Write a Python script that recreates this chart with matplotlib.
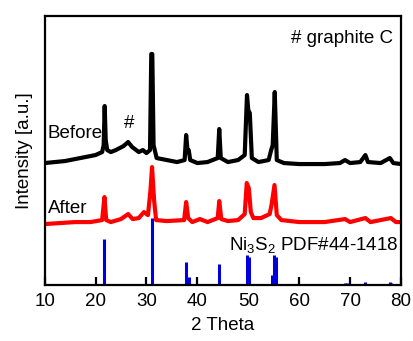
import numpy as np
import matplotlib
matplotlib.use("Agg")
import matplotlib.pyplot as plt

plt.rcParams['font.family'] = ['Liberation Sans', 'DejaVu Sans']
plt.rcParams['mathtext.fontset'] = 'custom'
plt.rcParams['mathtext.rm'] = 'Liberation Sans'
plt.rcParams['mathtext.default'] = 'regular'

# "Before" pattern: (2theta, intensity) knots
before_2t = [10, 12, 14, 16, 18, 20, 21.3, 21.6, 21.8, 22.0, 22.3, 23, 24, 25.5, 26.4,
             27.2, 28.5, 29.3, 30, 30.7, 30.95, 31.15, 31.4, 32, 34, 36, 37.5, 37.8,
             38.1, 38.3, 38.6, 40, 42, 44.0, 44.3, 44.6, 46, 48, 49.3, 49.75, 50.0,
             50.3, 50.7, 52, 54, 54.5, 54.8, 55.2, 55.6, 57, 60, 65, 68, 69, 70, 72,
             73, 73.5, 76, 77.8, 78.5, 80]
before_int = [122, 123, 124, 126, 128, 130, 133, 140, 179, 145, 135, 133, 135, 139, 143,
              138, 133, 135, 132, 135, 231, 231, 140, 127, 125, 123, 125, 150,
              133, 135, 125, 122, 123, 127, 156, 127, 123, 125, 130, 190, 175,
              172, 127, 123, 125, 135, 140, 193, 125, 122, 121, 121, 122, 125, 122, 123,
              130, 123, 122, 127, 122, 121]

# "After" pattern
after_2t = [10, 13, 16, 19, 21.3, 21.75, 22.1, 23, 25, 26.4, 27.3, 28.5, 29.5, 30.3,
            30.8, 31.1, 31.5, 31.9, 34, 37.4, 37.8, 38.2, 39, 40.5, 42, 44.0, 44.3,
            44.7, 46, 48, 49.3, 49.7, 50.1, 50.5, 51, 52.5, 54.2, 54.6, 55.15, 55.6,
            56.5, 60, 65, 69, 70, 73, 74, 78, 79, 80]
after_int = [61, 62, 63, 63, 65, 88, 65, 63, 66, 71, 66, 67, 73, 70,
             95, 118, 85, 65, 64, 65, 83, 67, 63, 66, 63, 67, 84,
             66, 64, 65, 71, 102, 97, 73, 67, 67, 71, 81, 100, 70,
             65, 63, 63, 66, 63, 67, 63, 67, 63, 63]

# Ni3S2 PDF#44-1418 reference lines
ref_2t = [21.75, 31.1, 37.75, 38.3, 44.3, 49.7, 50.1, 54.6, 55.15, 55.35, 69.0, 69.3, 73.0, 77.8, 78.1]
ref_int = [46, 67, 23, 8, 21, 30, 28, 10, 30, 28, 2, 2, 3, 3, 2]

fig = plt.figure(figsize=(4.13, 3.41), dpi=100)
ax = fig.add_axes([0.108, 0.164, 0.863, 0.789])

ax.plot(before_2t, before_int, color='black', lw=3.0, solid_joinstyle='round')
ax.plot(after_2t, after_int, color='red', lw=3.0, solid_joinstyle='round')
ax.vlines(ref_2t, 0, ref_int, color='#0000dd', lw=2.2)

ax.set_xlim(10, 80)
ax.set_ylim(0, 269)
ax.set_xticks([10, 20, 30, 40, 50, 60, 70, 80])
ax.set_yticks([])
ax.tick_params(axis='x', direction='in', length=6, width=1.6, labelsize=13.5, pad=6)
for s in ax.spines.values():
    s.set_linewidth(1.6)

ax.set_xlabel('2 Theta', fontsize=13.5, labelpad=5)
ax.set_ylabel('Intensity [a.u.]', fontsize=13.5, labelpad=8)

ax.text(78.5, 247, '# graphite C', fontsize=13.5, ha='right', va='center')
ax.text(10.6, 152, 'Before', fontsize=13.5, ha='left', va='center')
ax.text(26.5, 162, '#', fontsize=13.5, ha='center', va='center')
ax.text(10.6, 77, 'After', fontsize=13.5, ha='left', va='center')
ax.text(79.5, 40, r'Ni$_3$S$_2$ PDF#44-1418', fontsize=13.5, ha='right', va='center')

fig.savefig('out.png', dpi=100)
